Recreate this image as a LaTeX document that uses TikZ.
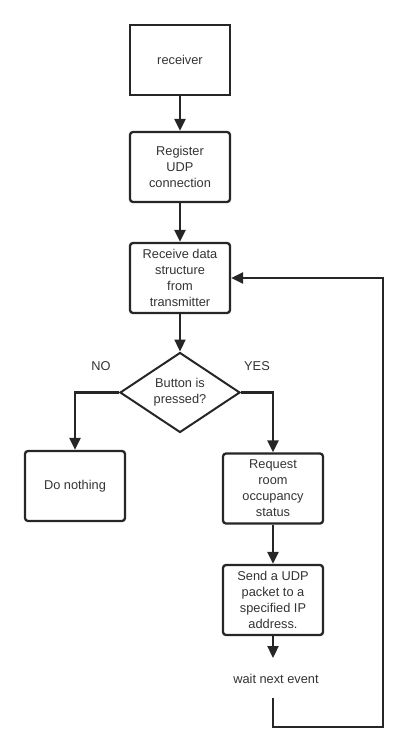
\documentclass[tikz,border=0pt]{standalone}
\usepackage{fontspec}
\setmainfont{Liberation Sans}
\usetikzlibrary{arrows.meta,shapes.geometric}
\begin{document}
\begin{tikzpicture}[x=1pt,y=-1pt,
  every node/.style={font=\fontsize{12.8}{16}\selectfont, text=black!80},
  boxsq/.style={draw=black!85, line width=2.3pt, minimum width=100pt, minimum height=70pt, align=center, inner sep=0pt},
  boxrd/.style={boxsq, rounded corners=3pt},
  dec/.style={draw=black!85, line width=2pt, diamond, aspect=1.5, minimum width=120pt, minimum height=80pt, inner sep=0pt, align=center},
  conn/.style={draw=black!85, line width=2.3pt, -{Triangle[length=12pt,width=11pt]}},
  line/.style={draw=black!85, line width=2.3pt}]
\useasboundingbox (0,0) rectangle (407,753);
\node[boxsq] (recv) at (180,60) {receiver};
\node[boxrd] (reg) at (180,167) {Register\\UDP\\connection};
\node[boxrd] (rd) at (180,278) {Receive data\\structure\\from\\transmitter};
\node[dec] (btn) at (180,392.5) {Button is\\pressed?};
\node[boxrd] (nothing) at (75,486) {Do nothing};
\node[boxrd] (req) at (273,488.5) {Request\\room\\occupancy\\status};
\node[boxrd] (send) at (273,600) {Send a UDP\\packet to a\\specified IP\\address.};
\node (wait) at (276,679) {wait next event};
\node at (101,366) {NO};
\node at (257,366) {YES};
\coordinate (wt) at (273,658);
\coordinate (wb) at (273,698);
\coordinate (c1) at (273,727);
\coordinate (c2) at (383,727);
\coordinate (c3) at (383,278);
\draw[conn] (recv) -- (reg);
\draw[conn] (reg) -- (rd);
\draw[conn] (rd) -- (btn);
\draw[conn] (btn.west) -| (nothing.north);
\draw[conn] (btn.east) -| (req.north);
\draw[conn] (req) -- (send);
\draw[conn] (send) -- (wt);
\draw[conn] (wb) -- (c1) -- (c2) -- (c3) -- (rd.east);
\end{tikzpicture}
\end{document}
